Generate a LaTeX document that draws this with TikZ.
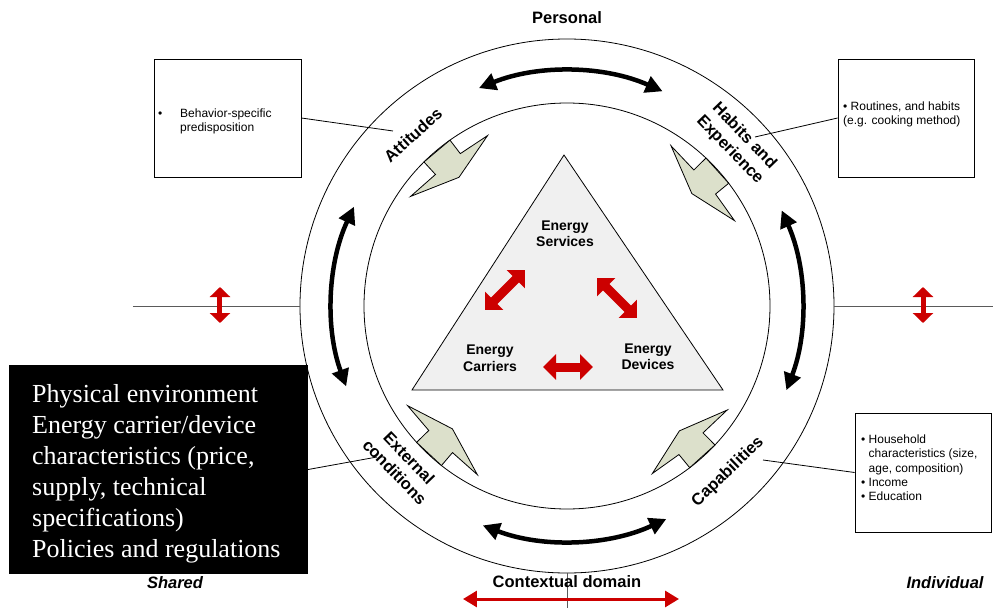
\documentclass[tikz,border=0pt]{standalone}
\usepackage{fontspec}
\setmainfont{Liberation Sans}
\newfontfamily\boxserif{Liberation Serif}
\usetikzlibrary{arrows.meta}
\definecolor{boltfill}{RGB}{220,224,203}
\definecolor{trifill}{RGB}{240,240,240}
\definecolor{arrred}{RGB}{204,0,0}
\definecolor{linegray}{RGB}{90,90,90}
\tikzset{
  ring/.style={circle,draw,line width=0.8pt,inner sep=0pt},
  ringlabel/.style={font=\fontsize{16.5}{20}\selectfont\bfseries,align=center,inner sep=0pt},
  trilabel/.style={font=\fontsize{14}{16.5}\selectfont\bfseries,align=center,inner sep=0pt},
  domlabel/.style={font=\fontsize{16.5}{20}\selectfont\bfseries,inner sep=0pt},
  infobox/.style={draw,line width=0.8pt,inner sep=0pt},
  infotext/.style={font=\fontsize{12}{14.3}\selectfont,align=left,inner sep=0pt,anchor=base west},
  bolt/.style={draw,fill=boltfill,line width=0.8pt},
  ringarrow/.style={line width=4.5pt,{Triangle[length=17pt,width=17pt]}-{Triangle[length=17pt,width=17pt]}},
  redarrow/.style={arrred,line width=9pt,{Triangle[length=13pt,width=25pt]}-{Triangle[length=13pt,width=25pt]}},
  smallred/.style={arrred,line width=5pt,{Triangle[length=10pt,width=20pt]}-{Triangle[length=10pt,width=20pt]}},
  guide/.style={linegray,line width=0.8pt}
}
\begin{document}
\begin{tikzpicture}[x=1pt,y=1pt]
\useasboundingbox (-567,-302) rectangle (426,306);
% the two rings
\node[ring,minimum size=534pt] (outer) at (0,0) {};
\node[ring,minimum size=406pt] (inner) at (0,0) {};
\coordinate (leftend) at (-434,0);
\coordinate (rightend) at (426,0);
\coordinate (bottomend) at (0,-302);
\draw[guide] (leftend) -- (outer.west);
\draw[guide] (outer.east) -- (rightend);
\draw[guide] (outer.south) -- (bottomend);
% triangle in the middle
\draw[line width=0.8pt,fill=trifill] (-3,151) -- (-155,-84) -- (156,-84) -- cycle;
\node[trilabel] (services) at (-2,72) {Energy\\Services};
\node[trilabel] (carriers) at (-77,-52) {Energy\\Carriers};
\node[trilabel] (devices) at (81,-51) {Energy\\Devices};
\draw[redarrow] (-82,-4) -- (-42,36);
\draw[redarrow] (30,28) -- (70,-12);
\draw[redarrow] (-24,-61) -- (26,-61);
% arrows round the ring
\foreach \a/\b in {66/112,155/200,249/295,-21/24}
  \draw[ringarrow] (\a:235) arc[start angle=\a,end angle=\b,radius=235];
% bolts on the inner ring
\foreach \p in {130,42,227,312}
  \draw[bolt] ({\p-15}:188) -- (\p:168) -- ({\p+15}:191) -- ({\p+5}:186)
    -- ({\p+4.8}:203) -- ({\p-4.8}:203) -- ({\p-5}:186) -- cycle;
% ring labels
\node[ringlabel,rotate=42] (attitudes) at (-154,171) {Attitudes};
\node[ringlabel,rotate=-46] (habits) at (170,163) {Habits and\\Experience};
\node[ringlabel,rotate=44] (capab) at (161,-166) {Capabilities};
\node[ringlabel,rotate=-46] (external) at (-165,-159) {External\\conditions};
% side boxes (text nodes sit on the baseline of their last line)
\node[infobox,minimum width=147pt,minimum height=118pt] (attbox) at (-339.5,188) {};
\node[infotext] (atttext) at (-409,174.4) {\makebox[22pt][l]{\textbullet}Behavior-specific\\\hspace*{22pt}predisposition};
\node[infobox,minimum width=136pt,minimum height=118pt] (habbox) at (339,188) {};
\node[infotext] (habtext) at (276,181.4) {\textbullet\ Routines, and habits\\(e.g. cooking method)};
\node[infobox,minimum width=136pt,minimum height=119pt] (capbox) at (356,-166.5) {};
\node[infotext] (captext) at (294,-194.7) {\textbullet\ Household\\\hphantom{\textbullet\ }characteristics (size,\\\hphantom{\textbullet\ }age, composition)\\\textbullet\ Income\\\textbullet\ Education};
\node[fill=black,minimum width=299pt,minimum height=209pt,inner sep=0pt] (extbox) at (-408.5,-163.5) {};
\node[infotext,font=\boxserif\fontsize{26}{31}\selectfont,text=white] (exttext) at (-535,-251) {Physical environment\\Energy carrier/device\\characteristics (price,\\supply, technical\\specifications)\\Policies and regulations};
\coordinate (attend) at (-174,175);
\coordinate (habend) at (188,169);
\coordinate (capend) at (196,-154);
\coordinate (extend) at (-190,-151);
\draw[line width=0.8pt] (attbox.east) -- (attend);
\draw[line width=0.8pt] (habbox.west) -- (habend);
\draw[line width=0.8pt] (capbox.west) -- (capend);
\draw[line width=0.8pt] (extbox.east) -- (extend);
% domain labels and red arrows
\node[domlabel] (personal) at (0,288) {Personal};
\node[domlabel] (context) at (0,-276) {Contextual domain};
\node[domlabel,font=\fontsize{16.5}{20}\selectfont\bfseries\itshape] (shared) at (-392,-277) {Shared};
\node[domlabel,font=\fontsize{16.5}{20}\selectfont\bfseries\itshape] (individual) at (378,-277) {Individual};
\draw[smallred] (-347,19) -- (-347,-17);
\draw[smallred] (356,19) -- (356,-17);
\draw[arrred,line width=3pt,{Triangle[length=14pt,width=16pt]}-{Triangle[length=14pt,width=16pt]}] (-104,-293) -- (112,-293);
\end{tikzpicture}
\end{document}
